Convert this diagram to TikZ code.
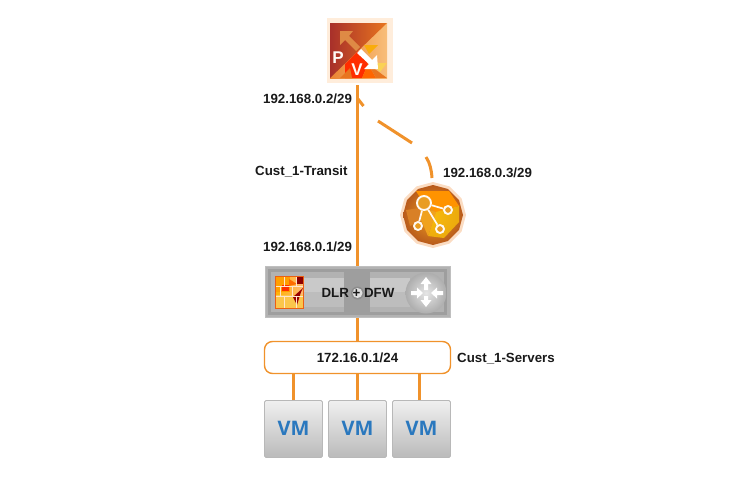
\documentclass[tikz,border=0pt]{standalone}
\usepackage{fontspec}
\setmainfont{Liberation Sans}
\newfontfamily\vmfont{Open Sans}
\usetikzlibrary{calc,shapes.geometric}
\definecolor{wire}{HTML}{F0922B}
\definecolor{vmblue}{HTML}{2A78BE}
\definecolor{pvdark}{HTML}{A8302A}
\definecolor{pvmid}{HTML}{E8751F}
\definecolor{pvlight}{HTML}{F8BE7A}
\definecolor{mutearrow}{HTML}{DE8A45}
\definecolor{gemrim}{HTML}{FBDCC2}
\definecolor{gemdark}{HTML}{B85A1C}
\definecolor{gemgold}{HTML}{F0A21E}
\tikzset{
  lbl/.style={font=\fontsize{13.3}{15}\selectfont\bfseries,text=black!90,inner sep=0pt,anchor=base west},
  wirel/.style={draw=wire,line width=3.2pt},
  vmbox/.style={draw=black!28,line width=.8pt,rounded corners=1.5pt,top color=black!6,bottom color=black!27,minimum width=58pt,minimum height=57pt,inner sep=0pt},
  vmtxt/.style={font=\vmfont\fontsize{20}{22}\selectfont\bfseries,text=vmblue},
  pvtxt/.style={font=\fontsize{17}{18}\selectfont\bfseries,text=white!96!orange,inner sep=0pt},
  gemline/.style={draw=white!95!orange,line width=1.7pt},
  gemnode/.style={draw=white!95!orange,line width=1.9pt,fill=gemgold!85!brown},
  brick/.style={draw=white!80!orange,line width=.8pt},
}
\begin{document}
\begin{tikzpicture}[x=1pt,y=-1pt]
\useasboundingbox (0,0) rectangle (740,477);
% ---- PV icon
\node[minimum width=66pt,minimum height=65pt,inner sep=0pt,fill=orange!14] (pv) at (359.5,50.5) {};
\begin{scope}
  \clip (330,23) rectangle (387,78);
  \fill[left color=pvmid!80!pvlight,right color=pvlight] (330,23) rectangle (387,78);
  \shade[left color=pvdark,right color=pvmid] (330,23) -- (387,23) -- (330,78) -- cycle;
  \fill[red!65!orange] (345,64) -- (358,51) -- (368,64) -- (362,78) -- (345,78) -- cycle;
  \fill[orange!80!red] (362,78) -- (368,64) -- (376,78) -- cycle;
  \fill[pvmid] (376,78) -- (368,64) -- (387,78) -- cycle;
  \fill[pvlight!70!yellow] (372,63) -- (387,63) -- (380,72) -- cycle;
  \fill[yellow!35!orange] (364,45) -- (378,45) -- (369,54) -- cycle;
  \fill[pvmid] (340,78) -- (350,68) -- (352,78) -- cycle;
\end{scope}
\fill[mutearrow] (340,31) -- (353,31) -- (349,36) -- (360,47) -- (356,51) -- (345,40) -- (340,45) -- cycle;
\fill[white] (357,53) -- (361,49) -- (372,60) -- (377,55) -- (378,69) -- (364,69) -- (369,64) -- cycle;
\node[pvtxt] (pvp) at (338,58) {P};
\node[pvtxt] (pvv) at (357,70) {V};
% ---- Router
\node[fill=black!30,draw=black!25,line width=1pt,minimum width=185pt,minimum height=51pt,inner sep=0pt] (dlr) at (357.5,292) {};
\fill[black!38] (268,269) rectangle (447,315);
\fill[black!30] (271,272) rectangle (444,312);
\fill[black!38] (344,272) rectangle (370,312);
\fill[black!21] (303,278) rectangle (344,292);
\fill[black!26] (303,292) rectangle (344,307);
\fill[black!21] (370,278) rectangle (410,292);
\fill[black!26] (370,292) rectangle (410,307);
% firewall tile
\begin{scope}
  \clip (275,276) rectangle (303,308);
  \fill[left color=orange!60!yellow,right color=orange!55] (275,276) rectangle (303,308);
  \fill[orange!75!yellow] (275,276) rectangle (290,292);
  \fill[yellow!40!orange!70] (275,295) rectangle (303,308);
  \fill[red!65!orange] (282,285) rectangle (289,291);
  \fill[red!60!black] (293,297) -- (303,288) -- (301,292) -- (297,305) -- cycle;
  \fill[red!55!black] (297,277) rectangle (303,284);
  \fill[orange!85!red] (289,279) -- (297,284) -- (289,286) -- cycle;
  \draw[brick] (275,286) -- (303,286) (275,296) -- (303,296)
     (284,276) -- (284,286) (296,276) -- (296,286) (280,286) -- (280,296) (292,286) -- (292,296)
     (284,296) -- (284,308) (296,296) -- (296,308);
\end{scope}
\draw[red!35!orange!70!brown,line width=.5pt] (275,276) rectangle (303,308);
% router disc
\shade[inner color=black!10,outer color=black!32] (426,293) circle (20.5);
\fill[white] (426,277) -- (431.5,284) -- (428,284) -- (428,290) -- (424,290) -- (424,284) -- (420.5,284) -- cycle;
\fill[white] (426,307) -- (431.5,300) -- (428,300) -- (428,296) -- (424,296) -- (424,300) -- (420.5,300) -- cycle;
\fill[white] (423,293) -- (417,287.5) -- (417,291) -- (411,291) -- (411,295) -- (417,295) -- (417,298.5) -- cycle;
\fill[white] (431,293) -- (437,287.5) -- (437,291) -- (443,291) -- (443,295) -- (437,295) -- (437,298.5) -- cycle;
\fill[black!45] (357.5,293) circle (6.5);
\fill[black!12] (357.5,293) circle (5);
\node[font=\fontsize{13.3}{15}\selectfont\bfseries,text=black!90,inner sep=0pt] (dlrt) at (358,293) {DLR + DFW};
% ---- Segment
\node[draw=wire,line width=1.4pt,fill=white,rounded corners=8pt,minimum width=186pt,minimum height=32pt,inner sep=0pt,font=\fontsize{13.3}{15}\selectfont\bfseries,text=black!90] (seg) at (357.5,357.5) {172.16.0.1/24};
% ---- VMs
\node[vmbox] (vma) at (293.5,429) {};
\node[vmbox] (vmb) at (357.5,429) {};
\node[vmbox] (vmc) at (421.5,429) {};
\node[vmtxt] (ta) at (293.5,428) {VM};
\node[vmtxt] (tb) at (357.5,428) {VM};
\node[vmtxt] (tc) at (421.5,428) {VM};
% ---- Edge coordinates and connectors
\coordinate (wtop) at (357.5,85);
\coordinate (vmcw) at ($(vmc.north)+(-2,0)$);
\draw[wirel] (wtop) -- (wtop |- dlr.north);
\draw[wirel] (dlr.south) -- (seg.north);
\draw[wirel] (vma.north) -- (vma.north |- seg.south);
\draw[wirel] (vmb.north) -- (vmb.north |- seg.south);
\draw[wirel] (vmcw) -- (vmcw |- seg.south);
% dashed link to the controller
\coordinate (fork) at (358,99);
\coordinate (forkb) at (363.5,106);
\coordinate (da) at (378,121);
\coordinate (db) at (412,143);
\coordinate (dc) at (426,157);
\coordinate (dd) at (432,178);
\draw[wirel,line width=3pt] (fork) -- (forkb);
\draw[wirel,line width=3pt] (da) -- (db);
\draw[wirel,line width=3pt] (dc) .. controls (430,163) and (431.5,170) .. (dd);
% ---- Controller
\node[regular polygon,regular polygon sides=12,minimum size=66pt,inner sep=0pt,fill=gemrim,rotate=15] (ctl) at (433,215) {};
\node[regular polygon,regular polygon sides=12,minimum size=60pt,inner sep=0pt,rotate=15,inner color=gemgold,outer color=gemdark] (ctli) at (433,215) {};
\fill[orange!85!yellow] (416,191) -- (449,191) -- (459,206) -- (436,212) -- (424,204) -- cycle;
\fill[yellow!55!orange,opacity=.75] (436,212) -- (459,206) -- (459,222) -- (444,238) -- (428,236) -- cycle;
\fill[brown!60!orange] (406,210) -- (420,208) -- (421,220) -- (410,226) -- cycle;
\fill[gemgold] (420,208) -- (436,212) -- (428,236) -- (421,220) -- cycle;
\coordinate (hub) at (424,203);
\node[circle,gemnode,minimum size=14pt,inner sep=0pt] (hubn) at (hub) {};
\node[circle,gemnode,minimum size=8pt,inner sep=0pt] (na) at (448,210) {};
\node[circle,gemnode,minimum size=8pt,inner sep=0pt] (nb) at (418,226) {};
\node[circle,gemnode,minimum size=8pt,inner sep=0pt] (nc) at (440,229) {};
\draw[gemline] (hubn) -- (na);
\draw[gemline] (hubn) -- (nb);
\draw[gemline] (hubn) -- (nc);
% ---- Labels
\node[lbl] (l1) at (263,103) {192.168.0.2/29};
\node[lbl] (l2) at (255,175) {Cust\_1-Transit};
\node[lbl] (l3) at (443,177) {192.168.0.3/29};
\node[lbl] (l4) at (263,251) {192.168.0.1/29};
\node[lbl] (l5) at (457,362) {Cust\_1-Servers};
\end{tikzpicture}
\end{document}
